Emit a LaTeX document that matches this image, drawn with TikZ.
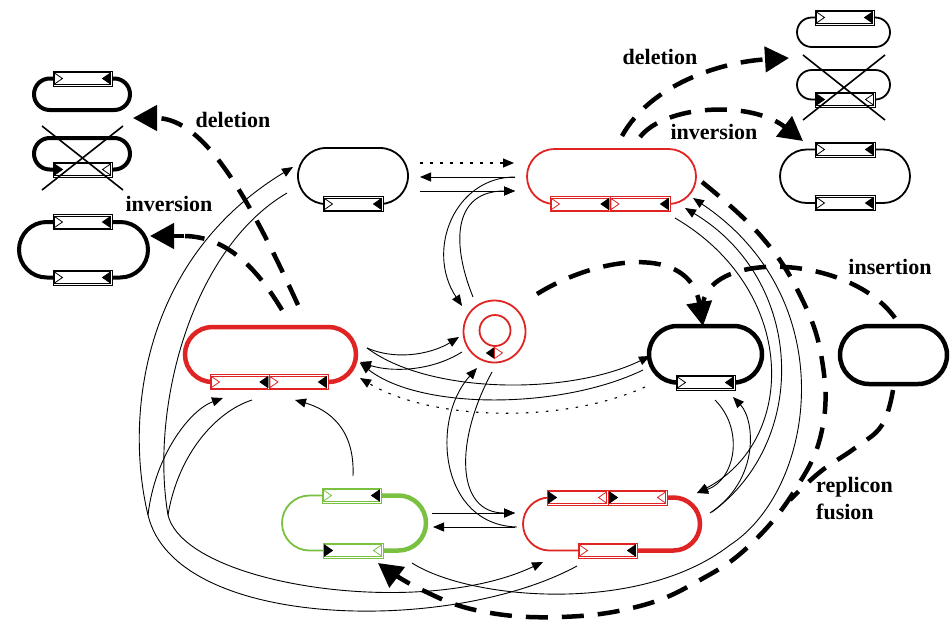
\documentclass[tikz,border=0pt]{standalone}
\usepackage{fontspec}
\setmainfont{Liberation Serif}
\usetikzlibrary{arrows.meta}
\definecolor{pred}{RGB}{224,36,36}
\definecolor{pgreen}{RGB}{122,193,66}
\newcommand{\stad}[6]{%
  \pgfmathsetmacro{\rr}{(#4-#3)/2}%
  \draw[#5,line width=#6,rounded corners=\rr pt] (#1,#3) rectangle (#2,#4);}
\newcommand{\isb}[4]{%
  \fill[white] (#1,{#3-7.5}) rectangle (#2,{#3+7.5});
  \draw[#4,line width=0.6pt] (#1,{#3-7.5}) rectangle (#2,{#3+7.5});
  \draw[#4,line width=0.4pt] ({#1+1.5},{#3-6}) rectangle ({#2-1.5},{#3+6});}
\newcommand{\trR}[4]{\filldraw[draw=#4,fill=#3,line width=0.8pt,line join=miter] (#1,{#2-5.5}) -- ({#1+8},#2) -- (#1,{#2+5.5}) -- cycle;}
\newcommand{\trL}[4]{\filldraw[draw=#4,fill=#3,line width=0.8pt,line join=miter] (#1,{#2-5.5}) -- ({#1-8},#2) -- (#1,{#2+5.5}) -- cycle;}
\begin{document}
\begin{tikzpicture}[x=1pt,y=1pt,yscale=-1,
  con/.style={line width=0.9pt,-{Triangle[length=11pt,width=9pt]}},
  pl/.style={line width=0.9pt},
  dotc/.style={line width=1.1pt,dash pattern=on 2.5pt off 7.5pt,-{Triangle[length=11pt,width=9pt]}},
  bigdash/.style={line width=4.5pt,dash pattern=on 22pt off 14pt},
  bigtip/.style={-{Triangle[length=24pt,width=25pt]}},
  lbl/.style={font=\fontsize{22}{24}\selectfont\bfseries,inner sep=0pt}]
\fill[white] (0,0) rectangle (951,622);
\useasboundingbox (0,0) rectangle (951,622);

% ---------- thin connectors ----------
\coordinate (jo) at (148,515);
\coordinate (ji) at (168,515);
\draw[dotc] (420,163) -- (514,163);
\draw[con] (515,177) -- (420,177);
\draw[con] (420,191) -- (515,191);
\draw[con] (515,177) .. controls (455,177) and (425,250) .. (462,306);
\draw[con] (473,297) .. controls (450,240) and (455,191) .. (515,191);
\draw[con] (367,348) .. controls (400,362) and (435,352) .. (459,337);
\draw[con] (462,352) .. controls (430,372) and (390,372) .. (360,362);
\draw[con] (367,348) .. controls (430,395) and (570,395) .. (650,356);
\draw[con] (643,370) .. controls (560,410) and (420,410) .. (360,363);
\draw[dotc] (645,387) .. controls (560,425) and (430,420) .. (360,378);
\draw[con] (517,527) .. controls (440,525) and (430,420) .. (477,368);
\draw[con] (492,372) .. controls (455,440) and (455,513) .. (515,513);
\draw[con] (432,513) -- (515,513);
\draw[con] (515,527) -- (433,527);
\draw[con] (353,476) .. controls (355,430) and (330,410) .. (295,400);
% left long arcs
\draw[con] (577,566) .. controls (450,635) and (175,630) .. (jo) .. controls (125,420) and (140,260) .. (293,167);
\draw[con] (287,193) .. controls (190,250) and (150,410) .. (ji) .. controls (185,585) and (420,620) .. (543,562);
\draw[con] (jo) .. controls (155,455) and (190,410) .. (223,398);
\draw[pl] (252,400) .. controls (215,412) and (178,455) .. (ji);
% right long arcs
\draw[con] (675,218) .. controls (798,290) and (798,440) .. (697,493);
\draw[con] (712,512) .. controls (810,440) and (805,280) .. (685,208);
\draw[con] (412,563) .. controls (470,600) and (640,615) .. (730,545) .. controls (815,490) and (845,300) .. (693,198);
\draw[con] (715,400) .. controls (745,430) and (735,480) .. (697,493);
\draw[con] (710,513) .. controls (760,480) and (755,420) .. (733,397);

% ---------- plasmids ----------
% A
\stad{298}{408}{148}{204}{black}{1.8pt}
\isb{323}{383}{204}{black}
\trR{324.5}{204}{white}{black}\trL{381.5}{204}{black}{black}
% B
\stad{527}{696}{149}{204}{pred}{1.8pt}
\isb{550}{610}{204}{pred}\isb{610}{670}{204}{pred}
\trR{551.5}{204}{white}{pred}\trL{609}{204}{black}{black}\trR{611}{204}{white}{pred}\trL{668.5}{204}{black}{black}
% C
\stad{185}{356}{327}{382}{pred}{4.5pt}
\isb{210}{269}{382}{pred}\isb{269}{328}{382}{pred}
\trR{211.5}{382}{white}{pred}\trL{268}{382}{black}{black}\trR{270}{382}{white}{pred}\trL{326.5}{382}{black}{black}
% D
\draw[pred,line width=1.8pt] (494.5,331.5) circle (31pt);
\draw[pred,line width=1.8pt] (495,330.5) circle (15.5pt);
\trL{494.5}{353}{black}{black}\trR{494.5}{353}{white}{pred}
% E
\stad{649}{762}{326}{382.5}{black}{4.5pt}
\isb{676}{735}{382.5}{black}
\trR{677.5}{382.5}{white}{black}\trL{733.5}{382.5}{black}{black}
% F
\stad{840}{947}{326}{384}{black}{4.5pt}
% G
\stad{282}{426}{495.5}{550.5}{pgreen}{1.8pt}
\begin{scope}\clip (380,470) rectangle (445,580);\stad{282}{426}{495.5}{550.5}{pgreen}{4.5pt}\end{scope}
\isb{322}{381}{495.5}{pgreen}
\trR{323.5}{495.5}{white}{pgreen}\trL{379.5}{495.5}{black}{black}
\isb{323}{383}{550.5}{pgreen}
\trR{324.5}{550.5}{black}{black}\trL{381.5}{550.5}{white}{pgreen}
% H
\stad{523}{700}{497.5}{550.5}{pred}{1.8pt}
\begin{scope}\clip (636,470) rectangle (720,580);\stad{523}{700}{497.5}{550.5}{pred}{4.5pt}\end{scope}
\isb{547}{608}{497.5}{pred}\isb{608}{667}{497.5}{pred}
\trR{548.5}{497.5}{black}{black}\trL{606.5}{497.5}{white}{pred}\trR{609.5}{497.5}{black}{black}\trL{665.5}{497.5}{white}{pred}
\isb{578}{637}{550.5}{pred}
\trR{579.5}{550.5}{white}{pred}\trL{635.5}{550.5}{black}{black}
% left icons
\stad{34}{130}{78.5}{110}{black}{4pt}
\isb{53}{112}{78.5}{black}\trR{54.5}{78.5}{white}{black}\trL{110.5}{78.5}{black}{black}
\stad{34}{130}{138}{169.5}{black}{4pt}
\isb{53}{112}{169.5}{black}\trR{54.5}{169.5}{black}{black}\trL{110.5}{169.5}{white}{black}
\draw[line width=1.6pt] (42,126) -- (123,190) (42,190) -- (123,126);
\stad{19}{148}{222}{277.5}{black}{4pt}
\isb{53}{112}{222}{black}\trR{54.5}{222}{white}{black}\trL{110.5}{222}{black}{black}
\isb{53}{112}{277.5}{black}\trR{54.5}{277.5}{white}{black}\trL{110.5}{277.5}{black}{black}
% right icons
\stad{797}{890}{17.5}{47}{black}{1.8pt}
\isb{815}{874}{17.5}{black}\trR{816.5}{17.5}{white}{black}\trL{872.5}{17.5}{black}{black}
\stad{797}{890}{70}{99.5}{black}{1.8pt}
\isb{815}{875}{99.5}{black}\trR{816.5}{99.5}{black}{black}\trL{873.5}{99.5}{white}{black}
\draw[line width=1.6pt] (803,55) -- (885,120) (803,120) -- (885,55);
\stad{780}{910}{149.5}{203}{black}{1.8pt}
\isb{815}{875}{149.5}{black}\trR{816.5}{149.5}{white}{black}\trL{873.5}{149.5}{black}{black}
\isb{815}{875}{203}{black}\trR{816.5}{203}{white}{black}\trL{873.5}{203}{black}{black}

% ---------- thick dashed ----------
\draw[bigdash,bigtip] (298,305) .. controls (250,200) and (205,118) .. (133,118);
\draw[bigdash] (282,310) .. controls (255,265) and (225,237) .. (185,236);
\draw[line width=4.5pt,bigtip] (184,236) -- (150,236);
\draw[bigdash,bigtip] (622,136) .. controls (650,85) and (720,62) .. (789,58);
\draw[bigdash,bigtip] (640,137) .. controls (665,105) and (750,100) .. (803,141);
\draw[bigdash,bigtip] (537,294) .. controls (600,255) and (690,245) .. (703,326);
\draw[bigdash] (895,318) .. controls (850,255) and (712,250) .. (703,303);
\draw[bigdash,bigtip] plot[smooth,tension=0.7] coordinates {(702,182) (760,235) (800,295) (822,360) (822,430) (795,490) (750,545) (700,580) (640,606) (560,617) (480,611) (420,589) (378,563)};
\draw[bigdash] plot[smooth,tension=0.7] coordinates {(893,390) (882,425) (855,448) (820,472) (790,500)};

% ---------- labels ----------
\node[lbl] (t1) at (233,120) {deletion};
\node[lbl] (t2) at (169,204) {inversion};
\node[lbl] (t3) at (660,57) {deletion};
\node[lbl] (t4) at (714,132) {inversion};
\node[lbl] (t5) at (890,267) {insertion};
\node[lbl,anchor=west] (t6) at (816,487) {replicon};
\node[lbl,anchor=west] (t7) at (816,512) {fusion};
\end{tikzpicture}
\end{document}
